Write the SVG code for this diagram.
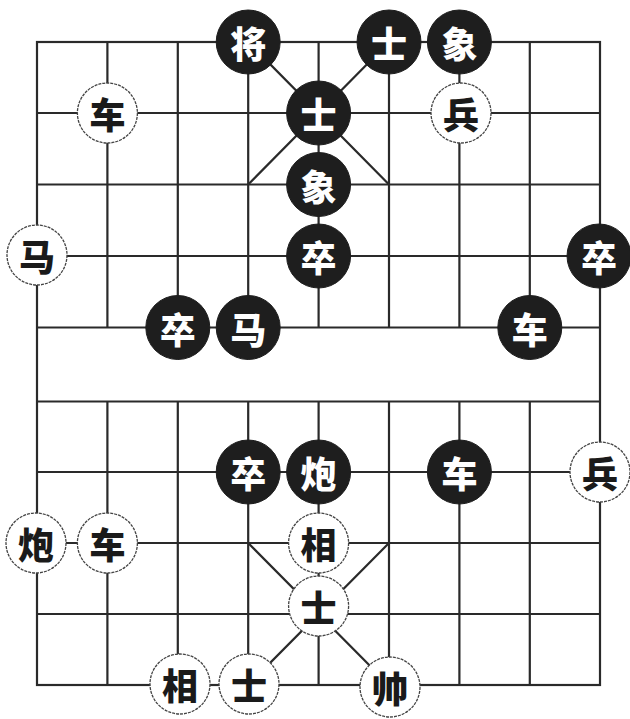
<svg xmlns="http://www.w3.org/2000/svg" width="630" height="719" viewBox="0 0 630 719">
<style>
.g{stroke:#2a2a2a;stroke-width:2.2;fill:none}
.b circle{fill:#1e1e1e;stroke:#1e1e1e;stroke-width:1}
.b text{fill:#fff}
.r circle{fill:#fff;stroke:#444;stroke-width:1.3;stroke-dasharray:3 1}
.r text{fill:#1a1a1a}
text{font-family:"Noto Sans CJK SC","Noto Sans CJK TC",sans-serif;font-weight:900;font-size:36px;text-anchor:middle;dominant-baseline:central}
</style>
<rect width="630" height="719" fill="#fff"/>
<g id="board" class="g">
<rect x="37" y="42" width="563" height="643"/>
<path d="M37 113H600M37 184.5H600M37 256H600M37 327.5H600M37 401.5H600M37 472H600M37 543H600M37 614H600"/>
<path d="M107.4 42V327.5M177.8 42V327.5M248.2 42V327.5M318.6 42V327.5M389 42V327.5M459.4 42V327.5M529.8 42V327.5"/>
<path d="M107.4 401.5V685M177.8 401.5V685M248.2 401.5V685M318.6 401.5V685M389 401.5V685M459.4 401.5V685M529.8 401.5V685"/>
<path d="M248.2 42L389 184.5M389 42L248.2 184.5M248.2 543L389 685M389 543L248.2 685"/>
</g>
<g id="pieces">
<g id="b-jiang" class="b"><circle cx="248.2" cy="42" r="32"/><text x="248.2" y="42">将</text></g>
<g id="b-shi1" class="b"><circle cx="389" cy="42" r="32"/><text x="389" y="42">士</text></g>
<g id="b-xiang1" class="b"><circle cx="459.4" cy="42" r="32"/><text x="459.4" y="42">象</text></g>
<g id="r-che1" class="r"><circle cx="107.4" cy="113" r="30"/><text x="107.4" y="113">车</text></g>
<g id="b-shi2" class="b"><circle cx="318.6" cy="113" r="32"/><text x="318.6" y="113">士</text></g>
<g id="r-bing1" class="r"><circle cx="461" cy="113" r="30"/><text x="461" y="113">兵</text></g>
<g id="b-xiang2" class="b"><circle cx="318.6" cy="184.5" r="32"/><text x="318.6" y="184.5">象</text></g>
<g id="r-ma" class="r"><circle cx="37" cy="255" r="30"/><text x="37" y="255">马</text></g>
<g id="b-zu1" class="b"><circle cx="318.6" cy="256" r="32"/><text x="318.6" y="256">卒</text></g>
<g id="b-zu2" class="b"><circle cx="599" cy="256" r="32"/><text x="599" y="256">卒</text></g>
<g id="b-zu3" class="b"><circle cx="177.8" cy="327.5" r="32"/><text x="177.8" y="327.5">卒</text></g>
<g id="b-ma" class="b"><circle cx="248.2" cy="327.5" r="32"/><text x="248.2" y="327.5">马</text></g>
<g id="b-che1" class="b"><circle cx="529.8" cy="327.5" r="32"/><text x="529.8" y="327.5">车</text></g>
<g id="b-zu4" class="b"><circle cx="248.2" cy="472" r="32"/><text x="248.2" y="472">卒</text></g>
<g id="b-pao" class="b"><circle cx="318.6" cy="472" r="32"/><text x="318.6" y="472">炮</text></g>
<g id="b-che2" class="b"><circle cx="459.4" cy="472" r="32"/><text x="459.4" y="472">车</text></g>
<g id="r-bing2" class="r"><circle cx="600" cy="472" r="30"/><text x="600" y="472">兵</text></g>
<g id="r-pao" class="r"><circle cx="36" cy="543" r="30"/><text x="36" y="543">炮</text></g>
<g id="r-che2" class="r"><circle cx="107.4" cy="543" r="30"/><text x="107.4" y="543">车</text></g>
<g id="r-xiang1" class="r"><circle cx="318.6" cy="543" r="30"/><text x="318.6" y="543">相</text></g>
<g id="r-shi1" class="r"><circle cx="318.6" cy="606" r="30"/><text x="318.6" y="606">士</text></g>
<g id="r-xiang2" class="r"><circle cx="180" cy="684" r="30"/><text x="180" y="684">相</text></g>
<g id="r-shi2" class="r"><circle cx="249" cy="684" r="30"/><text x="249" y="684">士</text></g>
<g id="r-shuai" class="r"><circle cx="390" cy="687" r="30"/><text x="390" y="687">帅</text></g>
</g>
</svg>
